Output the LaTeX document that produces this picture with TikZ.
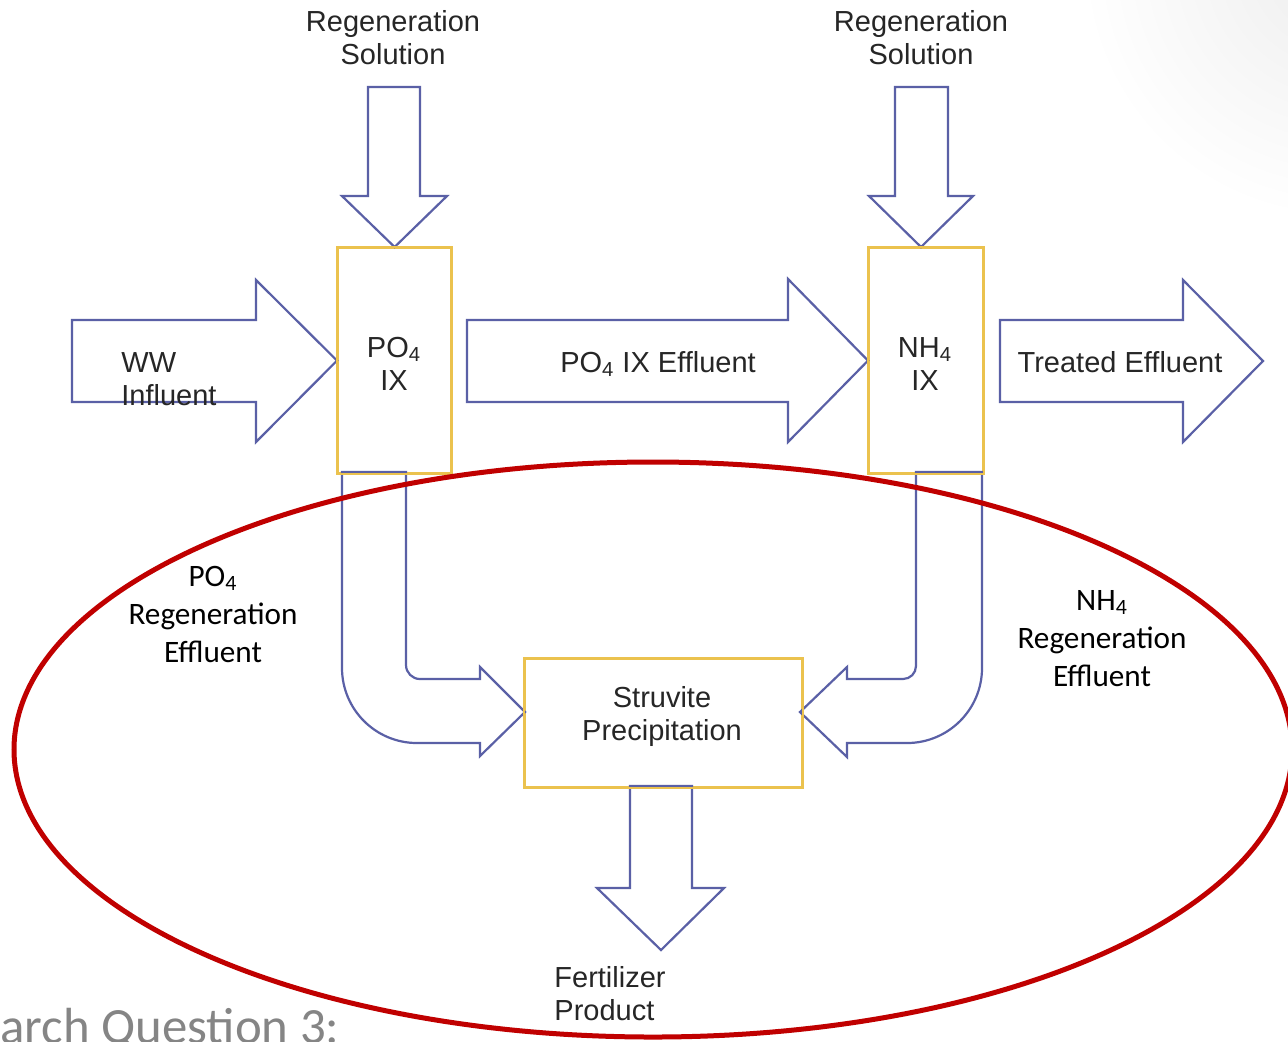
\documentclass[tikz,border=0pt]{standalone}
\usepackage{fontspec}
\setmainfont{Liberation Sans}
\newfontfamily\notefont{Carlito}
\definecolor{flowblue}{HTML}{5A60A6}
\definecolor{unitgold}{HTML}{EBC24E}
\definecolor{labelgray}{HTML}{262626}
\definecolor{ringred}{HTML}{C00000}
\definecolor{titlegray}{HTML}{858585}
\begin{document}
\begin{tikzpicture}[x=0.5pt,y=-0.5pt,
  flow/.style={draw=flowblue,line width=1.1pt,fill=white,line join=miter},
  unit/.style={draw=unitgold,line width=1.1pt,fill=white,inner sep=0pt,anchor=north west},
  lbl/.style={text=labelgray,font=\fontsize{14.5}{16.4}\selectfont,inner sep=0pt},
  note/.style={text=black,font=\notefont\fontsize{15.6}{19}\selectfont,inner sep=0pt,align=center},
]
\useasboundingbox (0,0) rectangle (1288,1041);
\clip (0,0) rectangle (1288,1041);
\fill[white] (0,0) rectangle (1288,1041);
% faint slide shading in the upper right corner
\shade[inner color=black!7, outer color=white] (1340,-40) circle [radius=260];

% process units (outlines drawn again after the arrows)
\node[unit, minimum width=56.5pt, minimum height=112.5pt] (po4ix) at (337,247) {};
\node[unit, minimum width=57pt, minimum height=112.5pt] (nh4ix) at (868,247) {};
\node[unit, minimum width=138.5pt, minimum height=64pt] (struv) at (524,658) {};
\coordinate (outlet) at (1263,361);
\coordinate (product) at (661,950);

% regeneration solution inputs
\draw[flow] (368,87) -- (420,87) -- (420,196) -- (447,196) -- (po4ix.north)
  -- (342,196) -- (368,196) -- cycle;
\draw[flow] (895,87) -- (948,87) -- (948,196) -- (973,196) -- (921,247)
  -- (869,196) -- (895,196) -- cycle;

% main wastewater train
\draw[flow] (72,320) -- (256,320) -- (256,280) -- (po4ix.west)
  -- (256,442) -- (256,402) -- (72,402) -- cycle;
\draw[flow] (467,320) -- (788,320) -- (788,279) -- (nh4ix.west)
  -- (788,442) -- (788,402) -- (467,402) -- cycle;
\draw[flow] (1000,320) -- (1183,320) -- (1183,280) -- (outlet)
  -- (1183,442) -- (1183,402) -- (1000,402) -- cycle;

% regeneration effluents to struvite precipitation
\draw[flow] (342,472) -- (342,668) .. controls (342,709.4) and (375.6,743) .. (417,743)
  -- (480,743) -- (480,756) -- (525,712) -- (480,667) -- (480,679) -- (420,679)
  .. controls (412.3,679) and (406,672.7) .. (406,665) -- (406,472) -- cycle;
\draw[flow] (982,472) -- (982,668) .. controls (982,709.4) and (948.4,743) .. (907,743)
  -- (847,743) -- (847,757) -- (800,712) -- (847,667) -- (847,679) -- (903,679)
  .. controls (910.2,679) and (916,673.2) .. (916,666) -- (916,472) -- cycle;

% fertilizer product
\draw[flow] (630,786) -- (630,888) -- (597,888) -- (product) -- (724,888)
  -- (692,888) -- (692,786) -- cycle;

% unit outlines on top
\draw[draw=unitgold,line width=1.1pt] (po4ix.north west) rectangle (po4ix.south east);
\draw[draw=unitgold,line width=1.1pt] (nh4ix.north west) rectangle (nh4ix.south east);
\draw[draw=unitgold,line width=1.1pt] (struv.north west) rectangle (struv.south east);

% labels (base anchor = baseline of the last line)
\node[lbl, align=center, anchor=base] (regsolA) at (393,64) {Regeneration\\Solution};
\node[lbl, align=center, anchor=base] (regsolB) at (921,64) {Regeneration\\Solution};
\node[lbl, align=center, anchor=base] (po4txt) at (394,390) {PO\textsubscript{4}\\IX};
\node[lbl, align=center, anchor=base] (nh4txt) at (925,390) {NH\textsubscript{4}\\IX};
\node[lbl, align=left, anchor=base west] (wwtxt) at (121,405) {WW\\Influent};
\node[lbl, anchor=base] (efftxt) at (658,372) {PO\textsubscript{4} IX Effluent};
\node[lbl, anchor=base] (treattxt) at (1120,372) {Treated Effluent};
\node[lbl, align=center, anchor=base] (struvtxt) at (662,740) {Struvite\\Precipitation};
\node[lbl, align=left, anchor=base west] (fertxt) at (554,1020) {Fertilizer\\Product};

\node[note, anchor=base] (po4regen) at (213,662) {PO\textsubscript{4}\\Regeneration\\Effluent};
\node[note, anchor=base] (nh4regen) at (1102,686) {NH\textsubscript{4}\\Regeneration\\Effluent};

% highlighted nutrient recovery loop
\draw[ringred, line width=2.5pt] (653,749.5) ellipse [x radius=639, y radius=287.5];

\node[text=titlegray, font=\notefont\fontsize{25.4}{30}\selectfont, inner sep=0pt,
  anchor=base west] (question) at (0,1043) {arch Question 3:};
\end{tikzpicture}
\end{document}
